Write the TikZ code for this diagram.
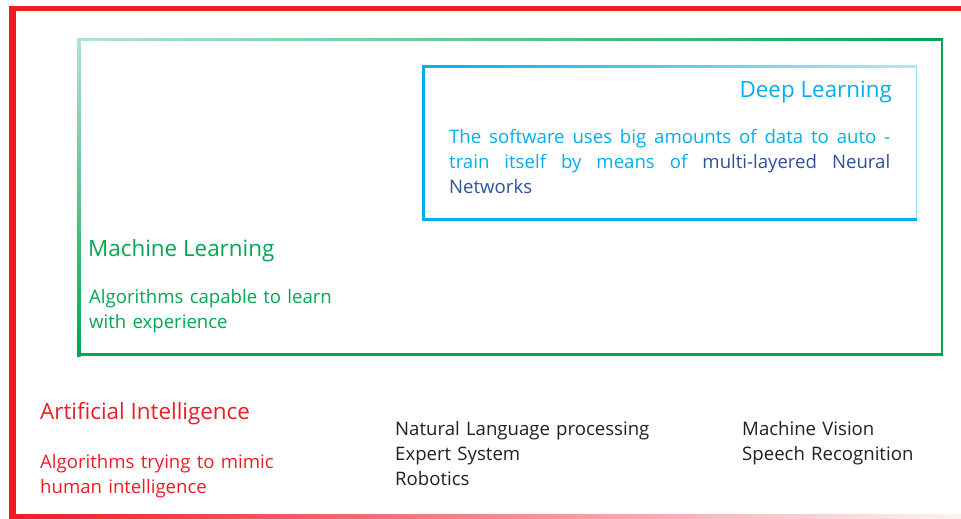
\documentclass[tikz,border=0pt]{standalone}
\usepackage{fontspec}
\setmainfont{Open Sans}
\usetikzlibrary{shadings}
\definecolor{aired}{RGB}{237,28,36}
\definecolor{mlgreen}{RGB}{0,166,81}
\definecolor{dlcyan}{RGB}{0,174,239}
\definecolor{dlblue}{RGB}{43,80,160}
\definecolor{txtgrey}{RGB}{35,31,32}
\newcommand{\fullline}[1]{\makebox[441pt][s]{\spaceskip=\fontdimen2\font plus 1fil\relax #1}}
\begin{document}
\begin{tikzpicture}[x=1pt,y=-1pt,
  bodytxt/.style={anchor=base west, inner sep=0pt, text width=#1, align=left, font=\fontsize{18.6}{25}\selectfont},
  bodytxt/.default=340pt,
  headtxt/.style={anchor=base west, inner sep=0pt, font=\fontsize{22.4}{28}\selectfont}]
\useasboundingbox (0,0) rectangle (961,519);
% red frame
\fill[aired] (9,6.5) rectangle (961,11.5);
\fill[aired] (9,6.5) rectangle (16,518);
\shade[left color=aired, right color=aired!6] (9,514.5) rectangle (961,518.5);
% green frame
\shade[left color=mlgreen!30, right color=mlgreen] (77,39) rectangle (943,41);
\shade[top color=mlgreen!30, bottom color=mlgreen] (77,39) rectangle (80.5,356);
\fill[mlgreen] (940.5,39) rectangle (943,356);
\fill[mlgreen] (77,352.5) rectangle (943,356);
% blue frame
\shade[left color=dlcyan, right color=dlcyan!30] (422,66) rectangle (917,68);
\fill[dlcyan!40] (915.5,66) rectangle (917,221);
\fill[dlcyan] (422,66) rectangle (425,221);
\fill[dlcyan] (422,218) rectangle (917,221);
% Deep learning
\node[headtxt, anchor=base east, text=dlcyan] (dlhead) at (892,97) {Deep Learning};
\node[bodytxt=441pt, text=dlcyan] (dlbody) at (449,143)
  {\fullline{The software uses big amounts of data to auto -}\\
   \fullline{train itself by means of \textcolor{dlblue}{multi-layered Neural}}\\
   \textcolor{dlblue}{Networks}};
% Machine learning
\node[headtxt, text=mlgreen] (mlhead) at (88,256) {Machine Learning};
\node[bodytxt, text=mlgreen] (mlbody) at (89,303) {Algorithms capable to learn\\with experience};
% AI
\node[headtxt, text=aired] (aihead) at (40,419) {Artificial Intelligence};
\node[bodytxt, text=aired] (aibody) at (40,468) {Algorithms trying to mimic\\human intelligence};
% lists
\node[bodytxt, text=txtgrey] (list1) at (395,435) {Natural Language processing\\Expert System\\Robotics};
\node[bodytxt, text=txtgrey] (list2) at (742,435) {Machine Vision\\Speech Recognition};
\end{tikzpicture}
\end{document}
